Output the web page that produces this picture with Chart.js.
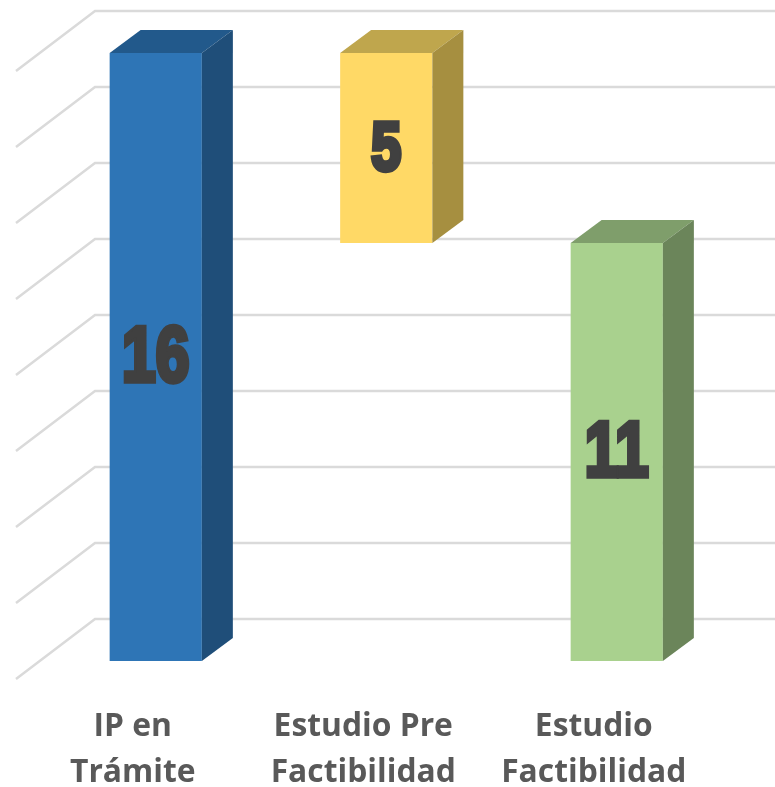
<!DOCTYPE html>
<html>
<head>
<meta charset="utf-8">
<style>
  html, body { margin: 0; padding: 0; background: #fff; }
  canvas { display: block; }
</style>
<script src="https://cdn.jsdelivr.net/npm/chart.js@4"></script>
</head>
<body>
<canvas id="chart" width="775" height="787"></canvas>
<script>
const categories = [['IP en', 'Trámite'], ['Estudio Pre', 'Factibilidad'], ['Estudio', 'Factibilidad']];
const barStart = [0, 11, 0];
const barEnd = [16, 16, 11];
const barValues = [16, 5, 11];

const frontColors = ['#2E75B6', '#FFD966', '#A9D18E'];
const topColors = ['#22598B', '#BFA64D', '#7F9E6B'];
const sideColors = ['#1F4E79', '#A68F40', '#6B855A'];
const valueFontSizes = [72, 64, 72];

// fake 3d depth of the bars and of the floor/wall
const barDepthX = 31;
const barDepthY = 23;

const fake3d = {
  id: 'fake3d',
  beforeDatasetsDraw(chart) {
    const ctx = chart.ctx;
    const y = chart.scales.y;
    ctx.save();
    ctx.strokeStyle = '#DADADA';
    ctx.lineWidth = 2.5;
    y.ticks.forEach(t => {
      const p = y.getPixelForValue(t.value);
      ctx.beginPath();
      ctx.moveTo(16, p + 18);
      ctx.lineTo(95, p - 42);
      ctx.lineTo(chart.width, p - 42);
      ctx.stroke();
    });
    ctx.restore();
  },
  afterDatasetsDraw(chart) {
    const ctx = chart.ctx;
    ctx.save();
    chart.getDatasetMeta(0).data.forEach((bar, i) => {
      const left = bar.x - bar.width / 2;
      const right = bar.x + bar.width / 2;
      const top = bar.y;
      const bottom = bar.base;

      ctx.fillStyle = topColors[i];
      ctx.beginPath();
      ctx.moveTo(left, top);
      ctx.lineTo(left + barDepthX, top - barDepthY);
      ctx.lineTo(right + barDepthX, top - barDepthY);
      ctx.lineTo(right, top);
      ctx.closePath();
      ctx.fill();

      ctx.fillStyle = sideColors[i];
      ctx.beginPath();
      ctx.moveTo(right, top);
      ctx.lineTo(right + barDepthX, top - barDepthY);
      ctx.lineTo(right + barDepthX, bottom - barDepthY);
      ctx.lineTo(right, bottom);
      ctx.closePath();
      ctx.fill();

      // value label, squeezed to look like the heavy condensed face
      ctx.save();
      ctx.translate(bar.x, (top + bottom) / 2);
      ctx.scale(0.84, 1.07);
      ctx.font = 'bold ' + valueFontSizes[i] + 'px "Liberation Sans", sans-serif';
      ctx.fillStyle = '#404040';
      ctx.strokeStyle = '#404040';
      ctx.lineWidth = 5;
      ctx.lineJoin = 'miter';
      ctx.textAlign = 'center';
      ctx.textBaseline = 'middle';
      ctx.strokeText(String(barValues[i]), 0, 3);
      ctx.fillText(String(barValues[i]), 0, 3);
      ctx.restore();
    });
    ctx.restore();
  }
};

new Chart(document.getElementById('chart'), {
  type: 'bar',
  data: {
    labels: categories,
    datasets: [{
      data: barStart.map((s, i) => [s, barEnd[i]]),
      backgroundColor: frontColors,
      borderWidth: 0,
      barPercentage: 0.4,
      categoryPercentage: 1
    }]
  },
  options: {
    responsive: false,
    animation: false,
    layout: { padding: { left: 40.5, right: 43, top: 53, bottom: 0 } },
    plugins: { legend: { display: false }, tooltip: { enabled: false } },
    scales: {
      x: {
        grid: { display: false },
        border: { display: false },
        afterFit(scale) { scale.height = 126; },
        ticks: {
          color: '#595959',
          font: { family: '"Open Sans"', size: 31.8, weight: 'bold', lineHeight: 1.45 },
          padding: 35,
          labelOffset: -23,
          maxRotation: 0,
          autoSkip: false
        }
      },
      y: {
        display: false,
        min: 0,
        max: 16,
        ticks: { stepSize: 2 }
      }
    }
  },
  plugins: [fake3d]
});
</script>
</body>
</html>
